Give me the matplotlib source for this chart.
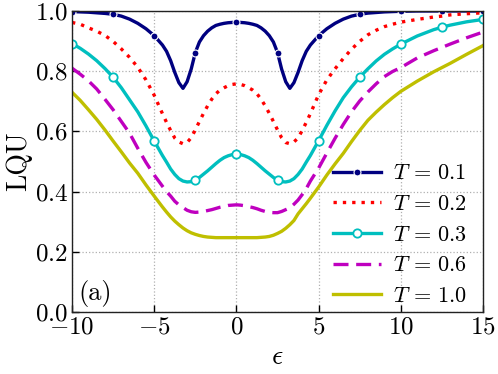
import numpy as np
import matplotlib
matplotlib.use('Agg')
import matplotlib.pyplot as plt

plt.rcParams['font.family'] = 'serif'
plt.rcParams['font.serif'] = ['cmr10', 'DejaVu Serif']
plt.rcParams['mathtext.fontset'] = 'cm'
plt.rcParams['axes.unicode_minus'] = False

# epsilon grid (finer around the dips)
eps = [-10, -9.5, -9, -8.5, -8, -7.5, -7, -6.5, -6, -5.5, -5,
       -4.5, -4.25, -4, -3.75, -3.5, -3.25, -3, -2.75, -2.5, -2.25, -2, -1.75, -1.5, -1.25, -1, -0.75, -0.5, -0.25,
       0, 0.25, 0.5, 0.75, 1, 1.25, 1.5, 1.75, 2, 2.25, 2.5, 2.75, 3, 3.25, 3.5, 3.75, 4, 4.25, 4.5,
       5, 5.5, 6, 6.5, 7, 7.5, 8, 8.5, 9, 9.5, 10, 11, 12, 12.5, 13, 14, 15]

lqu_t01 = [0.998, 0.997, 0.996, 0.994, 0.992, 0.989, 0.983, 0.973, 0.959, 0.941, 0.918,
           0.887, 0.866, 0.835, 0.796, 0.762, 0.743, 0.765, 0.807, 0.862, 0.897, 0.918, 0.933, 0.944, 0.952, 0.956, 0.959, 0.961, 0.962,
           0.962, 0.962, 0.961, 0.959, 0.956, 0.952, 0.944, 0.933, 0.918, 0.897, 0.862, 0.807, 0.765, 0.743, 0.762, 0.796, 0.835, 0.866, 0.887,
           0.918, 0.941, 0.959, 0.973, 0.983, 0.989, 0.993, 0.995, 0.997, 0.998, 0.999, 1.0, 1.0, 1.0, 1.0, 1.0, 1.0]

lqu_t02 = [0.962, 0.956, 0.944, 0.933, 0.919, 0.899, 0.874, 0.846, 0.813, 0.771, 0.720,
           0.659, 0.630, 0.603, 0.578, 0.565, 0.559, 0.563, 0.579, 0.605, 0.633, 0.660, 0.685, 0.707, 0.725, 0.737, 0.745, 0.752, 0.756,
           0.758, 0.756, 0.752, 0.745, 0.737, 0.725, 0.707, 0.685, 0.660, 0.633, 0.605, 0.579, 0.563, 0.559, 0.565, 0.578, 0.603, 0.630, 0.659,
           0.722, 0.771, 0.808, 0.842, 0.873, 0.899, 0.921, 0.936, 0.948, 0.956, 0.963, 0.972, 0.980, 0.983, 0.987, 0.991, 0.994]

lqu_t03 = [0.892, 0.876, 0.857, 0.835, 0.809, 0.780, 0.745, 0.705, 0.665, 0.618, 0.568,
           0.520, 0.498, 0.475, 0.457, 0.443, 0.435, 0.432, 0.433, 0.438, 0.447, 0.458, 0.469, 0.481, 0.493, 0.504, 0.513, 0.519, 0.523,
           0.524, 0.523, 0.519, 0.513, 0.504, 0.493, 0.481, 0.469, 0.458, 0.447, 0.438, 0.433, 0.432, 0.435, 0.443, 0.457, 0.475, 0.498, 0.520,
           0.569, 0.620, 0.668, 0.712, 0.748, 0.780, 0.808, 0.834, 0.856, 0.874, 0.890, 0.917, 0.938, 0.946, 0.953, 0.964, 0.972]

lqu_t06 = [0.810, 0.790, 0.768, 0.741, 0.707, 0.672, 0.633, 0.594, 0.544, 0.497, 0.455,
           0.418, 0.400, 0.385, 0.368, 0.356, 0.347, 0.338, 0.333, 0.331, 0.332, 0.334, 0.337, 0.340, 0.344, 0.348, 0.351, 0.354, 0.355,
           0.356, 0.355, 0.353, 0.350, 0.347, 0.343, 0.338, 0.334, 0.331, 0.330, 0.330, 0.334, 0.340, 0.346, 0.358, 0.372, 0.390, 0.410, 0.435,
           0.478, 0.528, 0.577, 0.623, 0.665, 0.701, 0.731, 0.758, 0.782, 0.799, 0.812, 0.844, 0.868, 0.879, 0.890, 0.911, 0.930]

lqu_t10 = [0.730, 0.703, 0.672, 0.640, 0.605, 0.568, 0.532, 0.495, 0.461, 0.422, 0.385,
           0.349, 0.332, 0.316, 0.302, 0.290, 0.279, 0.270, 0.263, 0.258, 0.254, 0.251, 0.249, 0.248, 0.247, 0.247, 0.247, 0.247, 0.247,
           0.247, 0.247, 0.247, 0.247, 0.247, 0.247, 0.248, 0.249, 0.251, 0.255, 0.261, 0.268, 0.278, 0.290, 0.304, 0.326, 0.343, 0.360, 0.378,
           0.415, 0.455, 0.492, 0.527, 0.566, 0.603, 0.637, 0.664, 0.689, 0.712, 0.733, 0.767, 0.798, 0.812, 0.826, 0.856, 0.885]

temps = ['0.1', '0.2', '0.3', '0.6', '1.0']

x = np.array(eps)
marks = [i for i, v in enumerate(eps) if np.isclose(v % 2.5, 0) or np.isclose(v % 2.5, 2.5)]

fig = plt.figure(figsize=(4.98, 3.74), dpi=100)
ax = fig.add_axes([0.1446, 0.1658, 0.8253, 0.8048])

lw = 2.4
lab = r'$T\,=\,%s$'
ax.plot(x, lqu_t01, color='navy', lw=lw, marker='o', ms=5, mfc='navy', mec='white', mew=0.8,
        markevery=marks, label=lab % temps[0])
ax.plot(x, lqu_t02, color='red', lw=lw, dashes=(1, 1.8), label=lab % temps[1])
ax.plot(x, lqu_t03, color='c', lw=lw, marker='o', ms=6, mfc='white', mec='c', mew=1.3,
        markevery=marks, label=lab % temps[2])
ax.plot(x, lqu_t06, color='m', lw=lw, dashes=(4.5, 2.3), label=lab % temps[3])
ax.plot(x, lqu_t10, color='y', lw=lw, label=lab % temps[4])

ax.set_xlim(-10, 15)
ax.set_ylim(0, 1)
ax.set_xticks([-10, -5, 0, 5, 10, 15])
ax.set_xticklabels(['$-10$', '$-5$', '$0$', '$5$', '$10$', '$15$'])
ax.set_yticks([0, 0.2, 0.4, 0.6, 0.8, 1.0])
ax.set_yticklabels(['$0.0$', '$0.2$', '$0.4$', '$0.6$', '$0.8$', '$1.0$'])
ax.tick_params(direction='in', length=5, width=1, labelsize=18, pad=3)
ax.grid(True, ls=':', color='#b0b0b0', lw=0.9)
ax.set_axisbelow(True)
for s in ax.spines.values():
    s.set_linewidth(1.0)
    s.set_color('#222222')

ax.set_xlabel(r'$\epsilon$', fontsize=20, labelpad=4)
ax.set_ylabel('LQU', fontsize=20, labelpad=2)
ax.text(-9.6, 0.015, '(a)', fontsize=19, ha='left', va='bottom')

ax.legend(loc='lower right', bbox_to_anchor=(0.972, 0.005), frameon=False, fontsize=16,
          handlelength=2.15, handletextpad=0.55, labelspacing=0.5, borderpad=0.2, borderaxespad=0.0)

plt.savefig('out.png', dpi=100)
